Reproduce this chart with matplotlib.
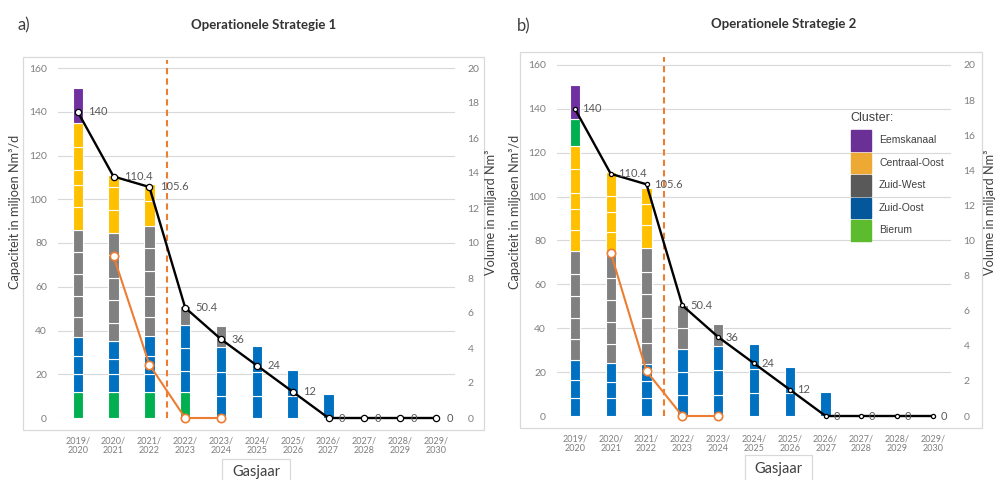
import matplotlib
matplotlib.use("Agg")
import matplotlib.pyplot as plt
from matplotlib.patches import Rectangle

plt.rcParams['font.family'] = ['Lato', 'DejaVu Sans']

W, H = 997, 480

# categorieen (gasjaar)
jaren = ['2019/\n2020', '2020/\n2021', '2021/\n2022', '2022/\n2023', '2023/\n2024',
         '2024/\n2025', '2025/\n2026', '2026/\n2027', '2027/\n2028', '2028/\n2029',
         '2029/\n2030']

# capaciteit (zwarte lijn), miljoen Nm3/d
cap_lijn = [140, 110.4, 105.6, 50.4, 36, 24, 12, 0, 0, 0, 0]

# strategie 1: segmenten per cluster per jaar (miljoen Nm3/d)
s1_bierum = [[12], [12], [12], [12], [], [], [], [], [], [], []]
s1_zuidoost = [[8, 8.5, 8.5], [8, 7, 8], [8, 8.5, 9], [9.5, 10.5, 10.5], [10, 11, 11.5],
               [10, 11, 12], [10, 12], [11], [], [], []]
s1_zuidwest = [[9, 10, 10, 10, 10], [8.5, 10.5, 10, 10.5, 10], [8.5, 10, 11, 10.5, 10.5],
               [8.5], [9.5], [], [], [], [], [], []]
s1_centraaloost = [[10.5, 10, 7, 10.5, 11], [10.5, 10.5, 5.5], [11, 8], [], [], [], [], [],
                   [], [], []]
s1_eemskanaal = [[16], [], [], [], [], [], [], [], [], [], []]
# volume (oranje lijn), miljard Nm3
s1_volume = [None, 9.25, 3.05, 0, 0, None, None, None, None, None, None]

# strategie 2
s2_zuidoost = [[8, 8.5, 9], [8, 7.5, 8.5], [8, 8, 7.5], [9.5, 10.5, 10.5], [9.5, 11.5, 11],
               [10.5, 11, 11.5], [10.5, 12], [11], [], [], []]
s2_zuidwest = [[9.5, 9.5, 10, 10, 10.5], [9, 10, 10, 10, 10.5], [10, 11, 11, 10, 11],
               [9.5, 10.5], [10], [], [], [], [], [], []]
s2_centraaloost = [[10, 9.5, 7, 11, 10.5], [10.5, 9, 7.5, 10.5], [10.5, 9.5, 7.5], [], [], [],
                   [], [], [], [], []]
s2_bierum = [[12.5], [], [], [], [], [], [], [], [], [], []]
s2_eemskanaal = [[15.5], [], [], [], [], [], [], [], [], [], []]
s2_volume = [None, 9.3, 2.55, 0, 0, None, None, None, None, None, None]

# kleuren
c_paars = '#7030A0'
c_geel = '#FFC000'
c_grijs = '#808080'
c_blauw = '#0070C0'
c_groen = '#00B050'
c_oranje = '#ED7D31'

legenda = ['Eemskanaal', 'Centraal-Oost', 'Zuid-West', 'Zuid-Oost', 'Bierum']
legenda_kleuren = ['#6B3096', '#EEA935', '#595959', '#04579B', '#5DBB2E']

fig = plt.figure(figsize=(W / 100, H / 100), dpi=100)


def rect(x0, x1, ytop, ybot):
    return [x0 / W, 1 - ybot / H, (x1 - x0) / W, (ybot - ytop) / H]


def box(x0, y0, x1, y1):
    fig.add_artist(Rectangle((x0 / W, 1 - y1 / H), (x1 - x0) / W, (y1 - y0) / H,
                             transform=fig.transFigure, fill=False,
                             edgecolor='#d9d9d9', lw=0.9))


def paneel(pos, lagen, volume, ms_zwart, offs, xlim):
    ax = fig.add_axes(pos)
    for i in range(len(jaren)):
        bodem = 0
        for segs, kleur in lagen:
            for s in segs[i]:
                ax.bar(i, s, bottom=bodem, width=0.29, color=kleur,
                       edgecolor='white', linewidth=0.8, zorder=2)
                bodem += s
    x = list(range(len(jaren)))
    ax.plot(x, cap_lijn, color='black', lw=1.7, marker='o', ms=ms_zwart,
            mfc='white', mec='black', mew=0.9, zorder=5, clip_on=False)
    for i, v in enumerate(cap_lijn):
        ax.annotate(f'{v:g}', (i, v), xytext=(offs, 0), textcoords='offset points',
                    ha='left', va='center', fontsize=8, color='#595959', zorder=6)
    ax.plot([2.5, 2.5], [0, 163.5], color=c_oranje, lw=1.5, ls=(0, (3, 2)),
            clip_on=False, zorder=4)
    ax.set_xlim(*xlim)
    ax.set_ylim(0, 164)
    ax.set_yticks(range(0, 161, 20))
    ax.set_xticks(x)
    ax.set_xticklabels(jaren, linespacing=1.1)
    ax.tick_params(axis='y', length=0, pad=8, labelsize=7.5, labelcolor='#7f7f7f')
    ax.tick_params(axis='x', length=0, pad=13, labelsize=6.5, labelcolor='#7f7f7f')
    ax.yaxis.grid(True, color='#d9d9d9', lw=0.8)
    ax.set_axisbelow(True)
    for sp in ax.spines.values():
        sp.set_visible(False)

    ax2 = ax.twinx()
    ax2.set_ylim(0, 164 / 8)
    ax2.set_yticks(range(0, 21, 2))
    ax2.tick_params(axis='y', length=0, pad=9, labelsize=7.5, labelcolor='#7f7f7f')
    for sp in ax2.spines.values():
        sp.set_visible(False)
    xs = [i for i, v in enumerate(volume) if v is not None]
    vs = [v for v in volume if v is not None]
    ax2.plot(xs, vs, color=c_oranje, lw=1.5, marker='o', ms=6, mfc='white',
             mec=c_oranje, mew=1.2, clip_on=False, zorder=6)
    return ax


# paneel a
box(23, 57, 484, 430)
paneel(rect(58, 455, 59.25, 418),
       [(s1_bierum, c_groen), (s1_zuidoost, c_blauw), (s1_zuidwest, c_grijs),
        (s1_centraaloost, c_geel), (s1_eemskanaal, c_paars)],
       s1_volume, 4.5, 7.5, (-0.55, 10.53))

# paneel b
box(520, 52, 982, 428)
paneel(rect(557, 951, 56.2, 416),
       [(s2_zuidoost, c_blauw), (s2_zuidwest, c_grijs), (s2_centraaloost, c_geel),
        (s2_bierum, c_groen), (s2_eemskanaal, c_paars)],
       s2_volume, 3, 5.5, (-0.5, 10.5))

# titels
fig.text(17 / W, 1 - 25 / H, 'a)', fontsize=12, color='#404040', va='center')
fig.text(517 / W, 1 - 26 / H, 'b)', fontsize=12, color='#404040', va='center')
fig.text(264 / W, 1 - 25 / H, 'Operationele Strategie 1', fontsize=9.5, weight='bold',
         ha='center', va='center', color='#333333')
fig.text(784 / W, 1 - 24 / H, 'Operationele Strategie 2', fontsize=9.5, weight='bold',
         ha='center', va='center', color='#333333')

# aslabels
for xl, xr in [(15, 491), (515, 990)]:
    fig.text(xl / W, 1 - 212 / H, 'Capaciteit in miljoen Nm³/d', rotation=90,
             fontsize=9.2, ha='center', va='center', color='#404040')
    fig.text(xr / W, 1 - 212 / H, 'Volume in miljard Nm³', rotation=90,
             fontsize=9.2, ha='center', va='center', color='#404040')

# Gasjaar kaders
box(222, 459, 290, 485)
fig.text(256 / W, 1 - 472 / H, 'Gasjaar', fontsize=10.5, ha='center', va='center',
         color='#404040')
box(745, 455, 812, 485)
fig.text(778 / W, 1 - 469 / H, 'Gasjaar', fontsize=10.5, ha='center', va='center',
         color='#404040')

# legenda
fig.text(850 / W, 1 - 118 / H, 'Cluster:', fontsize=9, ha='left', va='center',
         color='#404040', family='Liberation Sans')
for k, (naam, kleur) in enumerate(zip(legenda, legenda_kleuren)):
    y0 = 130 + k * 22.5
    fig.add_artist(Rectangle((851 / W, 1 - (y0 + 20.5) / H), 20 / W, 20.5 / H,
                             transform=fig.transFigure, color=kleur))
    fig.text(879 / W, 1 - (y0 + 10) / H, naam, fontsize=7.5, ha='left', va='center',
             color='#404040', family='Liberation Sans')

fig.savefig('out.png', dpi=100)
